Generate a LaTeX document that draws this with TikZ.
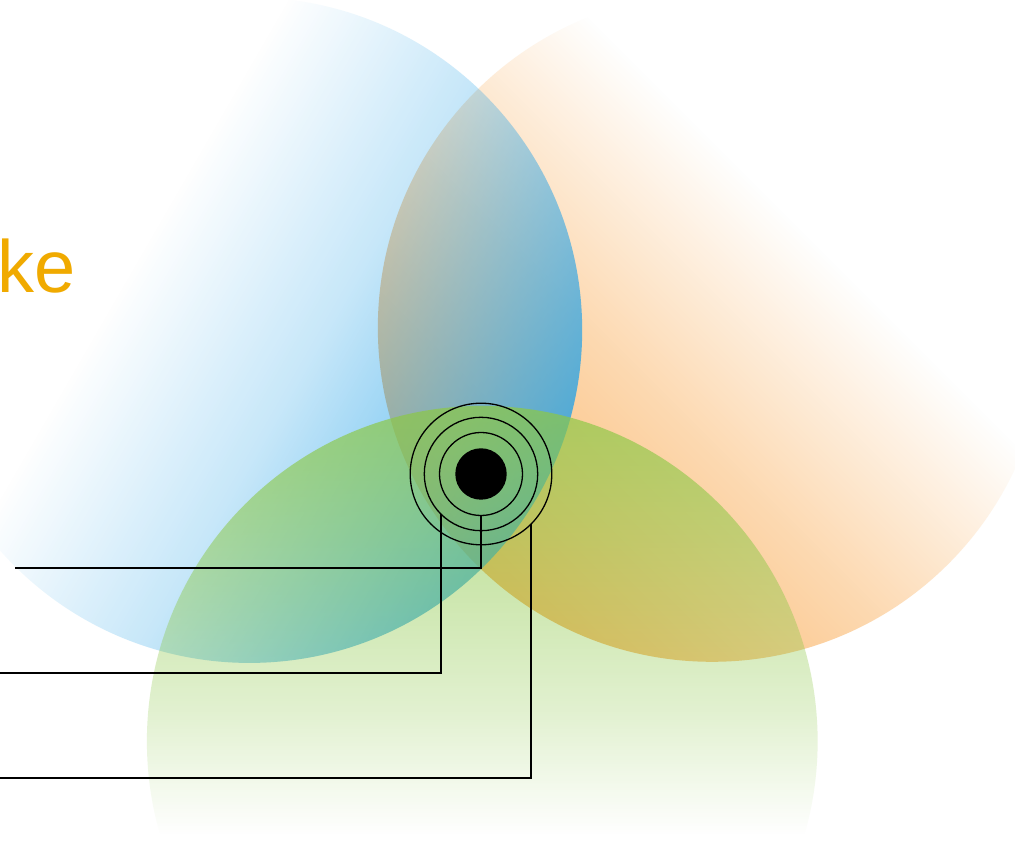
\documentclass[tikz,border=0pt]{standalone}
\usepackage{fontspec}
\setmainfont{Liberation Sans}
\usetikzlibrary{fadings}
\definecolor{cblue}{RGB}{30,160,232}
\definecolor{corange}{RGB}{250,165,70}
\definecolor{cgreen}{RGB}{140,200,70}
\definecolor{ctext}{RGB}{240,170,0}
\pgfdeclarehorizontalshading{maskB}{100bp}{color(0bp)=(black); color(40bp)=(black); color(55bp)=(white!25!black); color(75bp)=(white!78!black); color(100bp)=(white!78!black)}
\pgfdeclarehorizontalshading{maskO}{100bp}{color(0bp)=(black); color(40bp)=(black); color(56.5bp)=(white!42!black); color(75bp)=(white!80!black); color(100bp)=(white!80!black)}
\pgfdeclarehorizontalshading{maskG}{100bp}{color(0bp)=(black); color(43bp)=(black); color(52bp)=(white!25!black); color(75bp)=(white!72!black); color(100bp)=(white!72!black)}
\pgfdeclarefading{fadeB}{\pgfuseshading{maskB}}
\pgfdeclarefading{fadeO}{\pgfuseshading{maskO}}
\pgfdeclarefading{fadeG}{\pgfuseshading{maskG}}
\begin{document}
\begin{tikzpicture}[x=1pt,y=1pt,
  ring/.style={circle, draw=black, line width=1.3pt, inner sep=0pt, outer sep=0pt, minimum size=#1},
  lead/.style={draw=black, line width=1.3pt},
  blob/.style={path fading=#1}]
\fill[white] (0,0) rectangle (1015,841);
\useasboundingbox (0,0) rectangle (1015,841);
\fill[corange, blob=fadeO, fading angle=-135] (712,511) circle[radius=335];
\fill[cblue, blob=fadeB, fading angle=-30] (250,511) circle[radius=333];
\fill[cgreen, blob=fadeG, fading angle=90] (481,101) circle[radius=336];
\node[font=\fontsize{74}{80}\selectfont, text=ctext, anchor=base west, inner sep=0pt] (title) at (-2.3,548) {ke};
\node[circle, fill=black, inner sep=0pt, minimum size=51.4pt] (dot) at (481,367) {};
\node[ring=83pt] (r1) at (481,367) {};
\node[ring=113.4pt] (r2) at (481,367) {};
\node[ring=141.6pt] (r3) at (481,367) {};
\coordinate (e1) at (15,273);
\coordinate (e2) at (0,168);
\coordinate (e3) at (0,63);
\draw[lead] (r1.south) |- (e1);
\draw[lead] (r2.225) |- (e2);
\draw[lead] (r3.315) |- (e3);
\end{tikzpicture}
\end{document}
